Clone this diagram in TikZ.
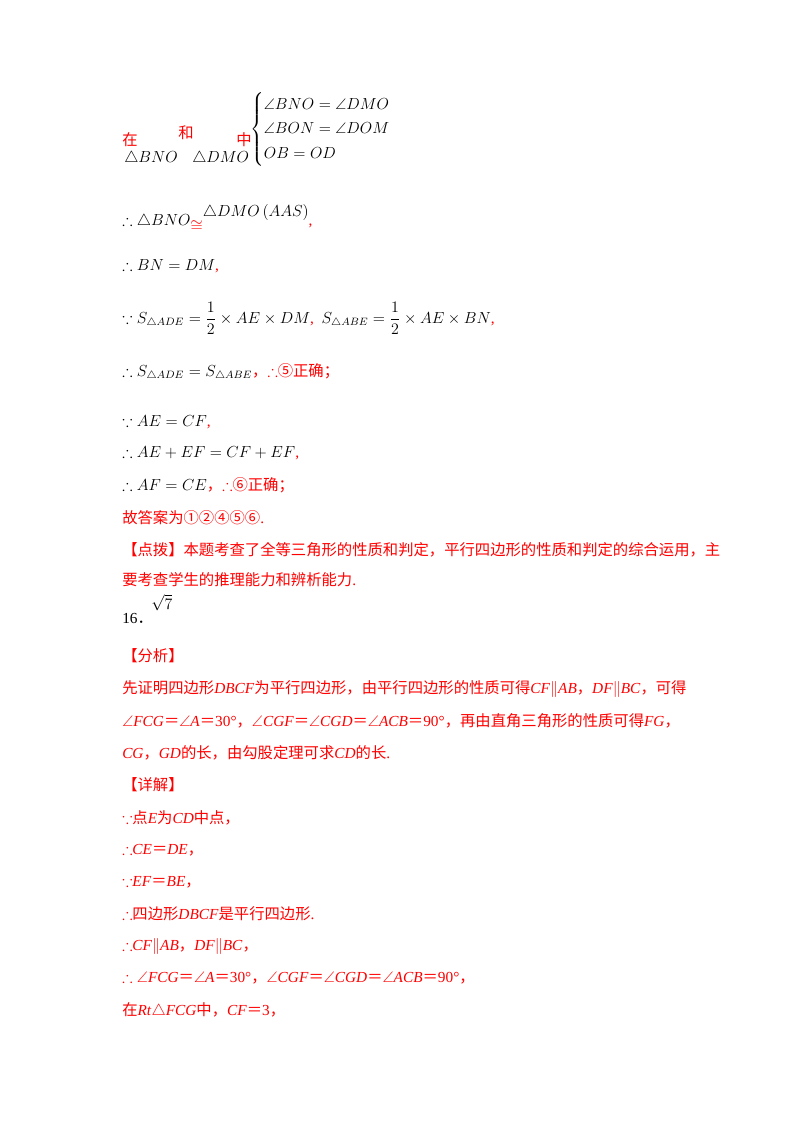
\documentclass[tikz,border=0pt]{standalone}
\usepackage{amsmath,amssymb}
\usepackage{fontspec}
\setmainfont{Liberation Serif}
\newfontfamily\cjk{Noto Sans CJK SC}
\definecolor{rd}{RGB}{255,0,0}
\newcommand{\C}[1]{{\cjk #1}}
\begin{document}
\begin{tikzpicture}[x=0.75pt,y=-0.75pt,
  t/.style={anchor=west,inner sep=0pt,font=\fontsize{11.5}{14}\selectfont},
  r/.style={t,text=rd}]
\useasboundingbox (0,0) rectangle (800,1132);
\node[r] (z1) at (122,140) {\C{在}};
\node[t] (z2) at (124,158) {$\triangle BNO$};
\node[r] (z3) at (178,133) {\C{和}};
\node[t] (z4) at (192,158) {$\triangle DMO$};
\node[r] (z5) at (236,140) {\C{中}};
\node[t] (z6) at (250,129) {\renewcommand{\arraystretch}{1.3}$\left\{\begin{array}{@{}l@{}}\angle BNO=\angle DMO\\ \angle BON=\angle DOM\\ OB=OD\end{array}\right.$};
\node[t] (l1) at (122,218) {$\therefore\triangle BNO$\raisebox{-4pt}{\textcolor{rd}{$\cong$}}\raisebox{7pt}{$\triangle DMO\left(AAS\right)$}\textcolor{rd}{,}};
\node[t] (l2) at (122,266) {$\therefore BN=DM$\textcolor{rd}{,}};
\node[t] (l3) at (122,318) {$\because S_{\triangle ADE}=\dfrac12\times AE\times DM$\textcolor{rd}{,}\ \ $S_{\triangle ABE}=\dfrac12\times AE\times BN$\textcolor{rd}{,}};
\node[t] (l4) at (122,372) {$\therefore S_{\triangle ADE}=S_{\triangle ABE}$\textcolor{rd}{\C{，}\textbf{$\therefore$}\C{⑤正确；}}};
\node[t] (l5) at (122,422) {$\because AE=CF$\textcolor{rd}{,}};
\node[t] (l6) at (122,453) {$\therefore AE+EF=CF+EF$\textcolor{rd}{,}};
\node[t] (l7) at (122,485) {$\therefore AF=CE$\textcolor{rd}{\C{，}$\therefore$\C{⑥正确；}}};
\node[r] (l8) at (122,518) {\C{故答案为①②④⑤⑥}.};
\node[r] (l9) at (122,550) {\C{【点拨】本题考查了全等三角形的性质和判定，平行四边形的性质和判定的综合运用，主}};
\node[r] (l10) at (122,580) {\C{要考查学生的推理能力和辨析能力}.};
\node[t] (l11) at (122,618) {16\C{．}};
\node[t] (l12) at (151,603) {$\sqrt{7}$};
\node[r] (l13) at (122,656) {\C{【分析】}};
\node[r] (l14) at (122,689) {\C{先证明四边形}\textit{DBCF}\C{为平行四边形，由平行四边形的性质可得}\textit{CF}$\parallel$\textit{AB}\C{，}\textit{DF}$\parallel$\textit{BC}\C{，可得}};
\node[r] (l15) at (122,721) {$\angle$\textit{FCG}\C{＝}$\angle$\textit{A}\C{＝}30°\C{，}$\angle$\textit{CGF}\C{＝}$\angle$\textit{CGD}\C{＝}$\angle$\textit{ACB}\C{＝}90°\C{，再由直角三角形的性质可得}\textit{FG}\C{，}};
\node[r] (l16) at (122,753) {\textit{CG}\C{，}\textit{GD}\C{的长，由勾股定理可求}\textit{CD}\C{的长}.};
\node[r] (l17) at (122,785) {\C{【详解】}};
\node[r] (l18) at (122,818) {$\because$\C{点}\textit{E}\C{为}\textit{CD}\C{中点，}};
\node[r] (l19) at (122,850) {$\therefore$\textit{CE}\C{＝}\textit{DE}\C{，}};
\node[r] (l20) at (122,882) {$\because$\textit{EF}\C{＝}\textit{BE}\C{，}};
\node[r] (l21) at (122,914) {$\boldsymbol{\therefore}$\C{四边形}\textit{DBCF}\C{是平行四边形}.};
\node[r] (l22) at (122,946) {$\therefore$\textit{CF}$\parallel$\textit{AB}\C{，}\textit{DF}$\parallel$\textit{BC}\C{，}};
\node[r] (l23) at (122,978) {$\therefore\angle$\textit{FCG}\C{＝}$\angle$\textit{A}\C{＝}30°\C{，}$\angle$\textit{CGF}\C{＝}$\angle$\textit{CGD}\C{＝}$\angle$\textit{ACB}\C{＝}90°\C{，}};
\node[r] (l24) at (122,1011) {\C{在}\textit{Rt}$\triangle$\textit{FCG}\C{中，}\textit{CF}\C{＝}3\C{，}};
\end{tikzpicture}
\end{document}
